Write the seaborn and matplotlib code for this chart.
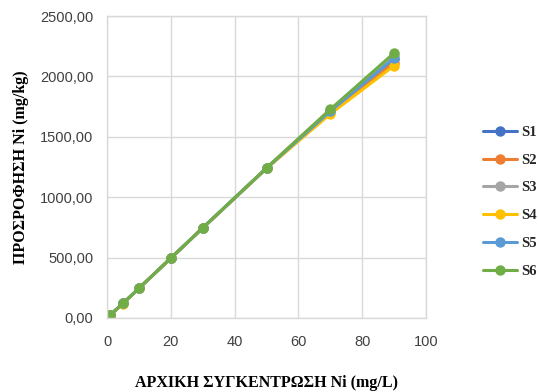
import matplotlib
matplotlib.use("Agg")
import matplotlib.pyplot as plt
import seaborn as sns
import pandas as pd
from matplotlib.ticker import FuncFormatter, MultipleLocator

conc = [1, 5, 10, 20, 30, 50, 70, 90]
series_names = ["S1", "S2", "S3", "S4", "S5", "S6"]
S1 = [24, 120, 245, 495, 745, 1240, 1715, 2145]
S2 = [24, 120, 245, 495, 745, 1240, 1705, 2115]
S3 = [24, 121, 246, 496, 746, 1242, 1725, 2175]
S4 = [23, 119, 244, 494, 744, 1238, 1690, 2090]
S5 = [24, 120, 245, 495, 745, 1240, 1712, 2150]
S6 = [24, 121, 246, 496, 746, 1243, 1728, 2195]
colors = ["#4472C4", "#ED7D31", "#A5A5A5", "#FFC000", "#5B9BD5", "#70AD47"]

rows = []
for name, vals in zip(series_names, [S1, S2, S3, S4, S5, S6]):
    for c, v in zip(conc, vals):
        rows.append({"conc": c, "val": v, "series": name})
df = pd.DataFrame(rows)

sns.set_theme(style="white")
plt.rcParams["font.family"] = ["Liberation Sans", "DejaVu Sans"]

fig = plt.figure(figsize=(5.38, 3.92), dpi=100)
ax = fig.add_axes([0.199, 0.189, 0.593, 0.770])

sns.lineplot(data=df, x="conc", y="val", hue="series", palette=colors,
             marker="o", markersize=7.5, markeredgewidth=0, linewidth=2.2,
             ax=ax, legend=True)

ax.set_xlim(0, 100)
ax.set_ylim(0, 2500)
ax.xaxis.set_major_locator(MultipleLocator(20))
ax.yaxis.set_major_locator(MultipleLocator(500))
ax.yaxis.set_major_formatter(FuncFormatter(lambda v, p: f"{v:.2f}".replace(".", ",")))
ax.grid(True, color="#d9d9d9", linewidth=1)
ax.set_axisbelow(True)
for s in ax.spines.values():
    s.set_color("#d9d9d9")
    s.set_linewidth(1)
ax.tick_params(axis="y", labelsize=10.5, colors="#404040", length=0, pad=10)
ax.tick_params(axis="x", labelsize=10.5, colors="#404040", length=0, pad=12)

ax.set_xlabel("ΑΡΧΙΚΗ ΣΥΓΚΕΝΤΡΩΣΗ Ni (mg/L)", family="Liberation Serif",
              fontweight="bold", fontsize=11.5, labelpad=19, color="black")
ax.set_ylabel("ΠΡΟΣΡΟΦΗΣΗ Ni (mg/kg)", family="Liberation Serif",
              fontweight="bold", fontsize=11.5, labelpad=8, color="black")

handles, labels = ax.get_legend_handles_labels()
ax.legend(handles, labels, loc="center left", bbox_to_anchor=(1.16, 0.385),
          frameon=False, prop={"family": "Liberation Serif", "weight": "bold", "size": 10.5},
          handlelength=2.3, labelspacing=1.0, handletextpad=0.3, borderaxespad=0)

fig.savefig("out.png", dpi=100)
